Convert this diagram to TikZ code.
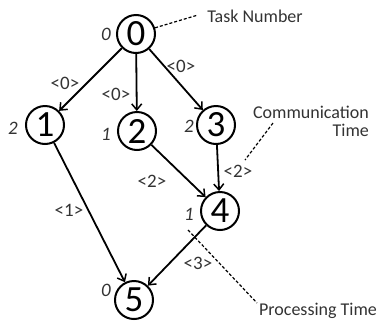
\documentclass[tikz,border=0pt]{standalone}
\usepackage{fontspec}
\setmainfont{Carlito}
\usetikzlibrary{arrows.meta}
\begin{document}
\begin{tikzpicture}[x=1pt,y=-1pt,
  task/.style={circle,draw,line width=2pt,minimum size=38pt,inner sep=0pt,font=\fontsize{37}{37}\selectfont},
  ptime/.style={font=\fontsize{19}{19}\selectfont\itshape,text=black!80},
  ctime/.style={font=\fontsize{19}{19}\selectfont,text=black!80},
  edge/.style={line width=1.8pt,-{Straight Barb[length=6pt,width=10pt,line width=1.5pt]}},
  note/.style={font=\fontsize{18}{18}\selectfont,text=black!80},
  leader/.style={line width=1.2pt,dash pattern=on 3pt off 2pt}]
\path[use as bounding box] (0,0) rectangle (379,322);
\node[task] (n0) at (136,34) {0};
\node[task] (n1) at (45,125) {1};
\node[task] (n2) at (137,131) {2};
\node[task] (n3) at (216,125) {3};
\node[task] (n4) at (220,211) {4};
\node[task] (n5) at (134,300) {5};
\node[ptime] (p0) at (106,34) {0};
\node[ptime] (p1) at (13,128) {2};
\node[ptime] (p2) at (106,134) {1};
\node[ptime] (p3) at (189,126) {2};
\node[ptime] (p4) at (189,214) {1};
\node[ptime] (p5) at (106,290) {0};
\draw[edge] (n0) -- (n1);
\draw[edge] (n0) -- (n2);
\draw[edge] (n0) -- (n3);
\draw[edge] (n1) -- (n5);
\draw[edge] (n2) -- (n4);
\draw[edge] (n3) -- (n4);
\draw[edge] (n4) -- (n5);
\node[ctime] (c01) at (65,83) {<0>};
\node[ctime] (c02) at (116,94) {<0>};
\node[ctime] (c03) at (181,66) {<0>};
\node[ctime] (c24) at (152,181) {<2>};
\node[ctime] (c34) at (238,171) {<2>};
\node[ctime] (c15) at (69,210) {<1>};
\node[ctime] (c45) at (198,263) {<3>};
\node[note] (tn) at (255,16) {Task Number};
\node[note,align=right] (ct) at (311,121) {Communication\\Time};
\node[note] (pt) at (318,311) {Processing Time};
\coordinate (tnd) at (198,15);
\coordinate (cta) at (273,123);
\coordinate (ctb) at (245,160);
\coordinate (pta) at (188,230);
\coordinate (ptb) at (257,303);
\draw[leader] (n0.18) -- (tnd);
\draw[leader] (cta) -- (ctb);
\draw[leader] (pta) -- (ptb);
\end{tikzpicture}
\end{document}
